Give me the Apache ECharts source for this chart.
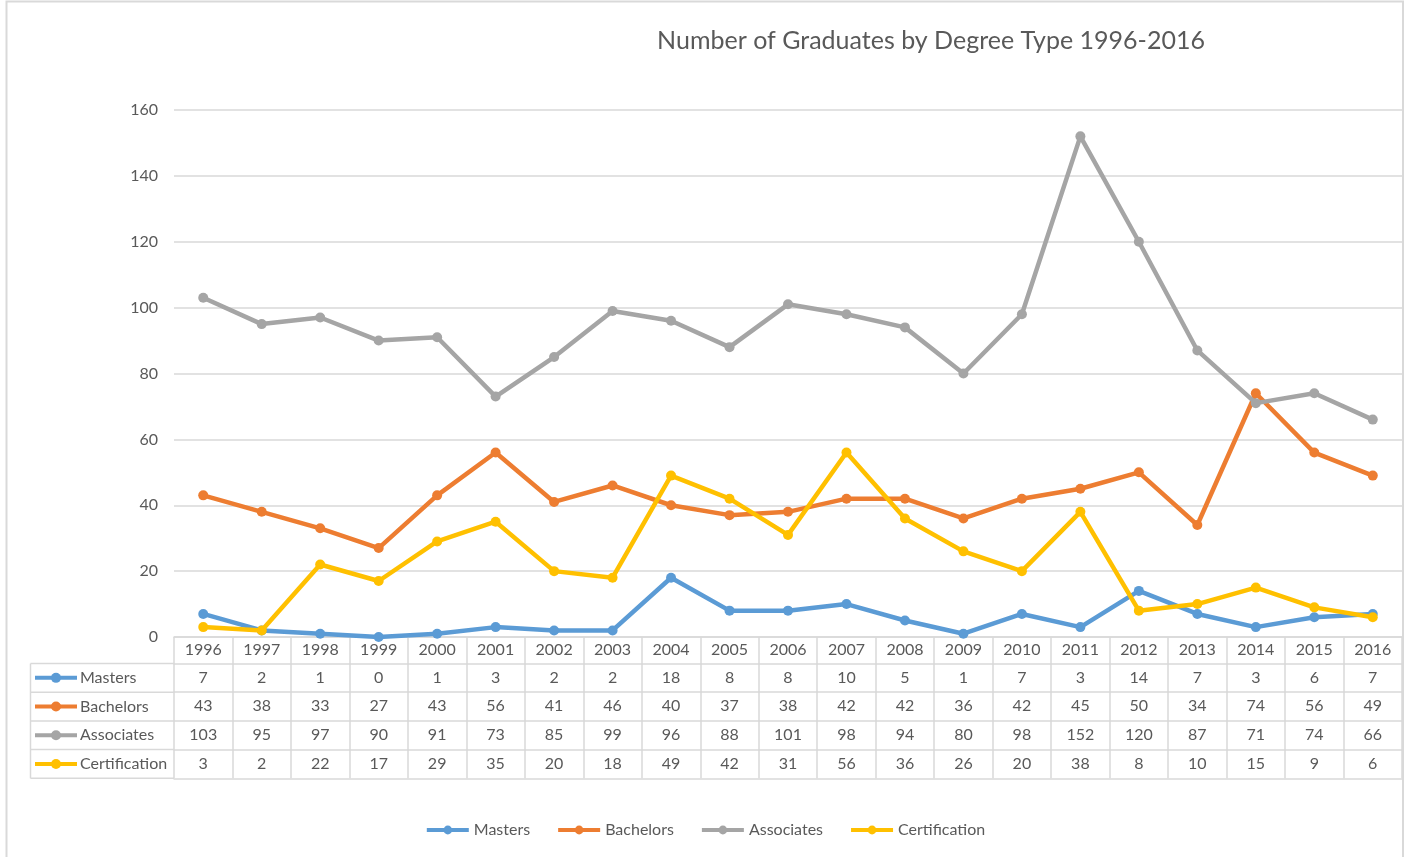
<!DOCTYPE html>
<html>
<head>
<meta charset="utf-8">
<script src="https://cdn.jsdelivr.net/npm/echarts@6/dist/echarts.min.js"></script>
<style>
  html, body { margin: 0; padding: 0; background: #fff; }
  #Chart { width: 1410px; height: 857px; }
</style>
</head>
<body>
<div id="Chart"></div>
<script>
var years = ['1996', '1997', '1998', '1999', '2000', '2001', '2002', '2003', '2004', '2005', '2006',
  '2007', '2008', '2009', '2010', '2011', '2012', '2013', '2014', '2015', '2016'];
var masters = [7, 2, 1, 0, 1, 3, 2, 2, 18, 8, 8, 10, 5, 1, 7, 3, 14, 7, 3, 6, 7];
var bachelors = [43, 38, 33, 27, 43, 56, 41, 46, 40, 37, 38, 42, 42, 36, 42, 45, 50, 34, 74, 56, 49];
var associates = [103, 95, 97, 90, 91, 73, 85, 99, 96, 88, 101, 98, 94, 80, 98, 152, 120, 87, 71, 74, 66];
var certification = [3, 2, 22, 17, 29, 35, 20, 18, 49, 42, 31, 56, 36, 26, 20, 38, 8, 10, 15, 9, 6];
var seriesNames = ['Masters', 'Bachelors', 'Associates', 'Certification'];
var seriesData = [masters, bachelors, associates, certification];
var yTicks = [0, 20, 40, 60, 80, 100, 120, 140, 160];

var COLORS = ['#5b9bd5', '#ed7d31', '#a5a5a5', '#ffc000'];
var FONT = 'Lato';
var TXT = '#595959';
var LINE = '#d9d9d9';

var GRID_LEFT = 174, GRID_RIGHT = 8, GRID_TOP = 110, GRID_BOTTOM = 220;
var HEAD_H = 26.5, ROW_H = 28.7;
var TABLE_LEFT = 30.5;

var myChart = echarts.init(document.getElementById('Chart'));

// main year axis + one axis per table row
var xAxes = [{
  type: 'category',
  data: years,
  boundaryGap: true,
  axisLine: { lineStyle: { color: LINE, width: 1.5 } },
  axisTick: { show: true, interval: 0, length: HEAD_H, lineStyle: { color: LINE, width: 1.5 } },
  axisLabel: { interval: 0, margin: 5, color: TXT, fontFamily: FONT, fontSize: 16 },
  splitLine: { show: false }
}];
seriesData.forEach(function (row, k) {
  xAxes.push({
    type: 'category',
    data: years,
    position: 'bottom',
    offset: HEAD_H + ROW_H * k,
    boundaryGap: true,
    axisLine: { lineStyle: { color: LINE, width: 1.5 } },
    axisTick: { show: true, interval: 0, length: ROW_H, lineStyle: { color: LINE, width: 1.5 } },
    axisLabel: {
      interval: 0, margin: 6, color: TXT, fontFamily: FONT, fontSize: 16,
      formatter: function (v, i) { return String(row[i]); }
    }
  });
});
xAxes.push({
  type: 'category',
  data: years,
  position: 'bottom',
  offset: HEAD_H + ROW_H * seriesData.length,
  axisLine: { lineStyle: { color: LINE, width: 1.5 } },
  axisTick: { show: false },
  axisLabel: { show: false }
});

// row header cells of the data table
var graphics = [{
  type: 'rect',
  shape: { x: 6.5, y: 1.5, width: 1396.5, height: 870 },
  style: { fill: 'none', stroke: LINE, lineWidth: 2 },
  silent: true
}];
var tableTop = 857 - GRID_BOTTOM + HEAD_H;
graphics.push({
  type: 'line',
  shape: { x1: TABLE_LEFT, y1: tableTop, x2: TABLE_LEFT, y2: tableTop + ROW_H * seriesNames.length },
  style: { stroke: LINE, lineWidth: 1.5 }
});
for (var r = 0; r <= seriesNames.length; r++) {
  graphics.push({
    type: 'line',
    shape: { x1: TABLE_LEFT, y1: tableTop + ROW_H * r, x2: GRID_LEFT, y2: tableTop + ROW_H * r },
    style: { stroke: LINE, lineWidth: 1.5 }
  });
}
seriesNames.forEach(function (name, k) {
  var cy = tableTop + ROW_H * k + ROW_H / 2;
  graphics.push({
    type: 'line',
    shape: { x1: 35, y1: cy, x2: 77, y2: cy },
    style: { stroke: COLORS[k], lineWidth: 4 }
  });
  graphics.push({
    type: 'circle',
    shape: { cx: 56, cy: cy, r: 5 },
    style: { fill: COLORS[k] }
  });
  graphics.push({
    type: 'text',
    x: 80, y: cy,
    style: { text: name, fill: TXT, font: '16px ' + FONT, textVerticalAlign: 'middle' }
  });
});

var option = {
  animation: false,
  color: COLORS,
  title: {
    text: 'Number of Graduates by Degree Type 1996-2016',
    left: 926,
    textAlign: 'center',
    top: 23,
    textStyle: { color: TXT, fontFamily: FONT, fontSize: 25, fontWeight: 'normal' }
  },
  legend: {
    bottom: 14,
    left: 'center',
    itemWidth: 42,
    itemHeight: 11,
    itemGap: 26,
    lineStyle: { width: 4 },
    textStyle: { color: TXT, fontFamily: FONT, fontSize: 16 },
    data: seriesNames
  },
  grid: { left: GRID_LEFT, right: GRID_RIGHT, top: GRID_TOP, bottom: GRID_BOTTOM },
  xAxis: xAxes,
  yAxis: {
    type: 'value',
    min: yTicks[0],
    max: yTicks[yTicks.length - 1],
    interval: 20,
    axisLine: { show: false },
    axisTick: { show: false },
    axisLabel: { margin: 16, color: TXT, fontFamily: FONT, fontSize: 16 },
    splitLine: { lineStyle: { color: LINE, width: 1.5 } }
  },
  graphic: graphics,
  series: seriesNames.map(function (name, k) {
    return {
      name: name,
      type: 'line',
      data: seriesData[k],
      symbol: 'circle',
      symbolSize: 10,
      lineStyle: { width: 4.5 },
      z: 3 + k
    };
  })
};
myChart.setOption(option);
window.addEventListener('resize', function () {
  myChart.resize();
});
</script>
</body>
</html>
